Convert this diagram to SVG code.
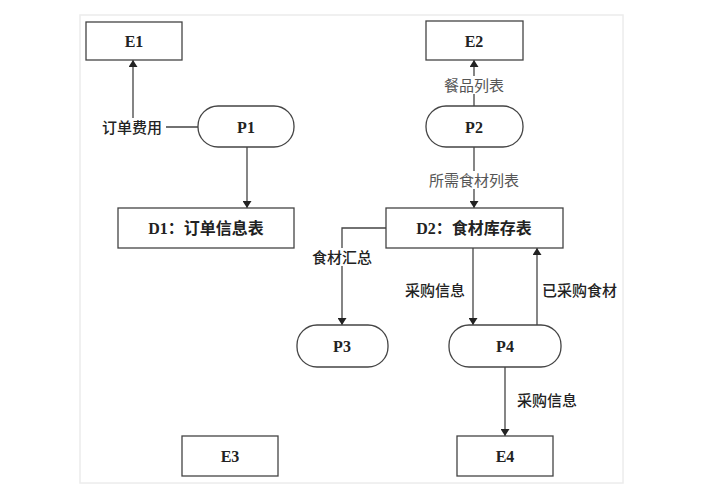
<svg xmlns="http://www.w3.org/2000/svg" width="709" height="499" viewBox="0 0 709 499">
<style>
.box{fill:#fff;stroke:#444;stroke-width:1.3}
.frame{fill:#fff;stroke:#ececec;stroke-width:1.5}
.nt{font-family:"Liberation Serif","Noto Sans CJK SC",serif;font-size:16px;font-weight:bold;fill:#222;text-anchor:middle;dominant-baseline:central}
.lb{font-family:"Liberation Sans","Noto Sans CJK SC",sans-serif;font-size:15px;font-weight:500;fill:#222;dominant-baseline:central}
.lg{fill:#555;font-weight:normal}
.ln{fill:none;stroke:#444;stroke-width:1.3}
.bg{fill:#fff}
</style>
<defs>
<marker id="ah" viewBox="0 0 10 10" refX="10" refY="5" markerWidth="7" markerHeight="9" markerUnits="userSpaceOnUse" orient="auto" preserveAspectRatio="none">
<path d="M0,0 L10,5 L0,10 Z" fill="#222"/>
</marker>
</defs>
<rect class="frame" x="80" y="15" width="543" height="468"/>
<g id="connectors">
<path class="ln" d="M198,127 H133 V60" marker-end="url(#ah)"/>
<path class="ln" d="M247,147 V208" marker-end="url(#ah)"/>
<path class="ln" d="M474,106 V60" marker-end="url(#ah)"/>
<path class="ln" d="M474,147 V208" marker-end="url(#ah)"/>
<path class="ln" d="M386,228 H342 V325" marker-end="url(#ah)"/>
<path class="ln" d="M473,248 V325" marker-end="url(#ah)"/>
<path class="ln" d="M537,325 V248" marker-end="url(#ah)"/>
<path class="ln" d="M505,367 V436" marker-end="url(#ah)"/>
<rect class="bg" x="101" y="118" width="65" height="18"/>
<text class="lb" x="102" y="127">订单费用</text>
<rect class="bg" x="442" y="76" width="64" height="18"/>
<text class="lb lg" x="474" y="85" text-anchor="middle">餐品列表</text>
<rect class="bg" x="425" y="171" width="98" height="18"/>
<text class="lb lg" x="474" y="180" text-anchor="middle">所需食材列表</text>
<rect class="bg" x="310" y="248" width="64" height="18"/>
<text class="lb" x="342" y="257" text-anchor="middle">食材汇总</text>
<text class="lb" x="405" y="290">采购信息</text>
<text class="lb" x="542" y="290">已采购食材</text>
<text class="lb" x="517" y="400">采购信息</text>
</g>
<g id="E1"><rect class="box" x="86" y="22" width="96" height="38"/><text class="nt" x="134" y="41">E1</text></g>
<g id="E2"><rect class="box" x="426" y="21" width="97" height="39"/><text class="nt" x="474" y="41">E2</text></g>
<g id="P1"><rect class="box" x="198" y="106" width="96" height="41" rx="20" ry="20"/><text class="nt" x="246" y="127">P1</text></g>
<g id="P2"><rect class="box" x="426" y="106" width="97" height="41" rx="20" ry="20"/><text class="nt" x="474" y="127">P2</text></g>
<g id="D1"><rect class="box" x="118" y="208" width="176" height="40"/><text class="nt" x="206" y="228">D1：订单信息表</text></g>
<g id="D2"><rect class="box" x="386" y="208" width="177" height="40"/><text class="nt" x="474" y="228">D2：食材库存表</text></g>
<g id="P3"><rect class="box" x="297" y="325" width="91" height="42" rx="20" ry="20"/><text class="nt" x="342" y="346">P3</text></g>
<g id="P4"><rect class="box" x="449" y="325" width="112" height="42" rx="20" ry="20"/><text class="nt" x="505" y="346">P4</text></g>
<g id="E3"><rect class="box" x="182" y="436" width="96" height="40"/><text class="nt" x="230" y="456">E3</text></g>
<g id="E4"><rect class="box" x="457" y="436" width="96" height="40"/><text class="nt" x="505" y="456">E4</text></g>
</svg>
